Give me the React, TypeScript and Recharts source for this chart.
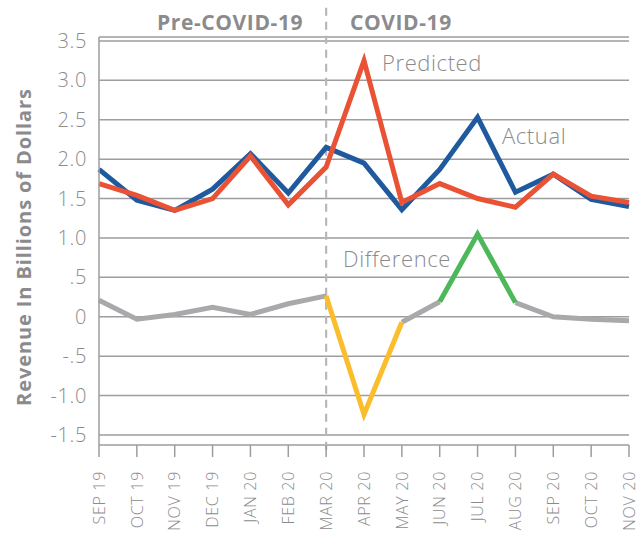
import React from 'react';
import { LineChart, Line, XAxis, YAxis, CartesianGrid, ReferenceLine, Customized } from 'recharts';

const categories = ['SEP 19', 'OCT 19', 'NOV 19', 'DEC 19', 'JAN 20', 'FEB 20', 'MAR 20', 'APR 20', 'MAY 20', 'JUN 20', 'JUL 20', 'AUG 20', 'SEP 20', 'OCT 20', 'NOV 20'];
const actual = [1.87, 1.48, 1.35, 1.62, 2.07, 1.57, 2.15, 1.95, 1.36, 1.87, 2.53, 1.58, 1.81, 1.49, 1.4];
const predicted = [1.69, 1.54, 1.35, 1.5, 2.04, 1.42, 1.9, 3.25, 1.45, 1.69, 1.5, 1.39, 1.81, 1.53, 1.45];
const difference = [0.21, -0.03, 0.03, 0.12, 0.03, 0.165, 0.265, -1.24, -0.07, 0.19, 1.05, 0.18, 0.0, -0.03, -0.05];
const yTicks = [-1.5, -1, -0.5, 0, 0.5, 1, 1.5, 2, 2.5, 3, 3.5];
const yTickLabels = ['-1.5', '-1.0', '-.5', '0', '.5', '1.0', '1.5', '2.0', '2.5', '3.0', '3.5'];
const negativePeriod = ['MAR 20', 'APR 20', 'MAY 20'];
const positivePeriod = ['JUN 20', 'JUL 20', 'AUG 20'];
const covidStart = 'MAR 20';

const data = categories.map((cat, i) => ({
  cat,
  actual: actual[i],
  predicted: predicted[i],
  diffGray: cat === negativePeriod[1] || cat === positivePeriod[1] ? null : difference[i],
  diffNeg: negativePeriod.includes(cat) ? difference[i] : null,
  diffPos: positivePeriod.includes(cat) ? difference[i] : null,
}));

const GRAY_TEXT = '#8b8b8d';
const FONT = '"Open Sans", sans-serif';

const XTick = (props: any) => {
  const { x, y, payload } = props;
  const ty = y + 12;
  return (
    <text
      x={x}
      y={ty}
      transform={`rotate(-90, ${x}, ${ty})`}
      textAnchor="end"
      dy="0.36em"
      fontSize={16}
      letterSpacing={0.7}
      fontFamily={FONT}
      fontWeight={300}
      fill={GRAY_TEXT}
    >
      {payload.value}
    </text>
  );
};

const Annotations = () => (
  <g fontFamily={FONT}>
    <text x={157} y={30} fontSize={21} letterSpacing={0.6} fontWeight={700} fill={GRAY_TEXT}>Pre-COVID-19</text>
    <text x={350} y={30} fontSize={21} letterSpacing={0.6} fontWeight={700} fill={GRAY_TEXT}>COVID-19</text>
    <text x={382} y={71} fontSize={22} letterSpacing={0.6} fontWeight={300} fill={GRAY_TEXT}>Predicted</text>
    <text x={502} y={144} fontSize={22} letterSpacing={0.6} fontWeight={300} fill={GRAY_TEXT}>Actual</text>
    <text x={343} y={267} fontSize={22} letterSpacing={0.6} fontWeight={300} fill={GRAY_TEXT}>Difference</text>
    <text
      x={31}
      y={247}
      transform="rotate(-90, 31, 247)"
      textAnchor="middle"
      fontSize={20}
      letterSpacing={0.9}
      fontWeight={700}
      fill={GRAY_TEXT}
    >
      Revenue In Billions of Dollars
    </text>
  </g>
);

export default function App() {
  return (
    <div style={{ position: 'absolute', left: 0, top: 0, width: 641, height: 533, background: '#fff' }}>
      <LineChart width={641} height={533} data={data} margin={{ top: 37, right: 12, bottom: 0, left: 0 }}>
        <CartesianGrid horizontal vertical={false} stroke="#9d9d9f" strokeWidth={1.5} />
        <XAxis
          dataKey="cat"
          interval={0}
          axisLine={false}
          tickLine={{ stroke: '#9d9d9f', strokeWidth: 1.5 }}
          tickSize={12}
          height={88}
          padding={{ left: 0, right: 0 }}
          tick={<XTick />}
        />
        <YAxis
          width={99}
          domain={[-1.627, 3.55]}
          ticks={yTicks}
          allowDataOverflow
          axisLine={{ stroke: '#9d9d9f', strokeWidth: 1.5 }}
          tickLine={false}
          tickSize={6}
          tickMargin={6}
          tickFormatter={(v: number) => yTickLabels[yTicks.indexOf(v)] ?? String(v)}
          tick={{ fill: GRAY_TEXT, fontSize: 20, fontFamily: FONT, fontWeight: 300, letterSpacing: 0.6 }}
        />
        <ReferenceLine
          segment={[{ x: covidStart, y: 3.92 }, { x: covidStart, y: -1.75 }]}
          stroke="#b7b8ba"
          strokeWidth={2.2}
          strokeDasharray="8 6"
          ifOverflow="visible"
        />
        <Line type="linear" dataKey="diffGray" stroke="#a8a9ab" strokeWidth={5} dot={false} isAnimationActive={false} connectNulls={false} />
        <Line type="linear" dataKey="diffNeg" stroke="#fbbd2c" strokeWidth={5} dot={false} isAnimationActive={false} connectNulls={false} />
        <Line type="linear" dataKey="diffPos" stroke="#4db85a" strokeWidth={5} dot={false} isAnimationActive={false} connectNulls={false} />
        <Line type="linear" dataKey="actual" stroke="#1f5a9e" strokeWidth={5} dot={false} isAnimationActive={false} />
        <Line type="linear" dataKey="predicted" stroke="#ea5235" strokeWidth={5} dot={false} isAnimationActive={false} />
        <Customized component={Annotations} />
      </LineChart>
    </div>
  );
}
